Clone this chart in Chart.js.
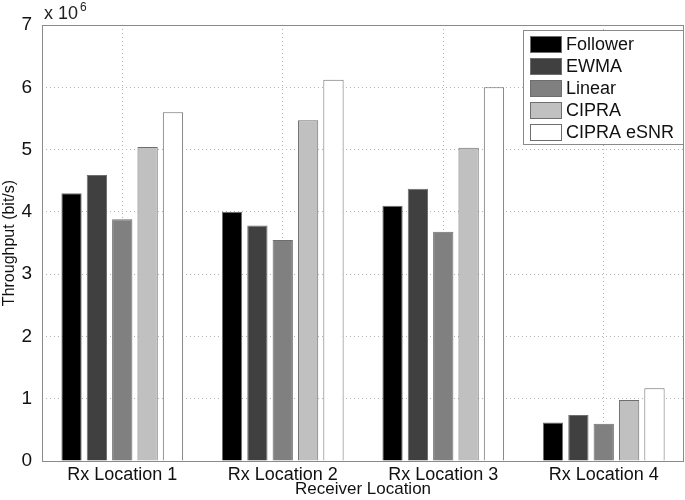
<!DOCTYPE html>
<html>
<head>
<meta charset="utf-8">
<script src="https://cdn.jsdelivr.net/npm/chart.js@4/dist/chart.umd.min.js"></script>
<style>
  html, body { margin: 0; padding: 0; background: #fff; }
  #wrap { width: 685px; height: 500px; }
</style>
</head>
<body>
<div id="wrap"><canvas id="Chart_Throughput"></canvas></div>
<script>
const locations = ["Rx Location 1", "Rx Location 2", "Rx Location 3", "Rx Location 4"];
const follower = [4.30, 4.00, 4.10, 0.62];
const ewma = [4.59, 3.78, 4.37, 0.74];
const linear = [3.88, 3.55, 3.68, 0.60];
const cipra = [5.04, 5.47, 5.03, 0.98];
const cipraEsnr = [5.60, 6.12, 6.00, 1.17];
const yTicks = [0, 1, 2, 3, 4, 5, 6, 7];

const FONT = "'Liberation Sans', Arial, sans-serif";
const edge = "#6e6e6e";

// MATLAB style box, exponent label and legend inside the axes
const matlabBits = {
  id: "matlabBits",
  afterDraw(chart) {
    const ctx = chart.ctx;
    const a = chart.chartArea;
    ctx.save();
    ctx.strokeStyle = "#8a8a8a";
    ctx.lineWidth = 1;
    ctx.strokeRect(a.left + 0.5, a.top + 0.5, a.right - a.left - 1, a.bottom - a.top);

    ctx.fillStyle = "#222";
    ctx.font = "18px " + FONT;
    ctx.textBaseline = "alphabetic";
    ctx.fillText("x 10", a.left + 2, a.top - 6);
    ctx.font = "12px " + FONT;
    ctx.fillText("6", a.left + 38, a.top - 14);

    // legend
    const lx = 523, ly = 30, lw = 160, lh = 114;
    ctx.fillStyle = "#fff";
    ctx.fillRect(lx, ly, lw, lh);
    ctx.strokeStyle = "#8a8a8a";
    ctx.strokeRect(lx + 0.5, ly + 0.5, lw, lh);
    ctx.font = "18px " + FONT;
    ctx.textBaseline = "middle";
    chart.data.datasets.forEach((ds, i) => {
      const cy = ly + 14 + i * 22;
      ctx.fillStyle = ds.backgroundColor;
      ctx.fillRect(530, cy - 8, 31, 16);
      ctx.strokeStyle = edge;
      ctx.strokeRect(530.5, cy - 7.5, 31, 16);
      ctx.fillStyle = "#111";
      ctx.fillText(ds.label, 566, cy + 1);
    });
    ctx.restore();
  }
};

new Chart(document.getElementById("Chart_Throughput"), {
  type: "bar",
  data: {
    labels: locations,
    datasets: [
      { label: "Follower", data: follower, backgroundColor: "#000000" },
      { label: "EWMA", data: ewma, backgroundColor: "#404040" },
      { label: "Linear", data: linear, backgroundColor: "#808080" },
      { label: "CIPRA", data: cipra, backgroundColor: "#c0c0c0" },
      { label: "CIPRA eSNR", data: cipraEsnr, backgroundColor: "#ffffff" },
    ].map(d => Object.assign(d, { borderColor: edge, borderWidth: 1, categoryPercentage: 0.79, barPercentage: 0.8 })),
  },
  options: {
    responsive: true,
    maintainAspectRatio: false,
    animation: false,
    layout: { padding: { top: 25, right: 1, left: 0, bottom: 0 } },
    plugins: {
      legend: { display: false },
      tooltip: { enabled: false },
    },
    scales: {
      x: {
        grid: { offset: false, color: "#b4b4b4", drawTicks: false },
        border: { display: false, dash: [1, 3] },
        ticks: { color: "#111", font: { family: FONT, size: 18 }, padding: 3 },
        title: { display: true, text: "Receiver Location", color: "#111", font: { family: FONT, size: 17 }, padding: { top: 0, bottom: 0 } },
        afterFit(scale) { scale.height = 39; },
      },
      y: {
        min: 0,
        max: 7,
        afterBuildTicks(scale) { scale.ticks = yTicks.map(v => ({ value: v })); },
        grid: { color: "#b4b4b4", drawTicks: false },
        border: { display: false, dash: [1, 3] },
        ticks: { color: "#111", font: { family: FONT, size: 19 }, padding: 10 },
        title: { display: true, text: "Throughput (bit/s)", color: "#111", font: { family: FONT, size: 16 }, padding: { top: 0, bottom: 2 } },
        afterFit(scale) { scale.width = 42; },
      },
    },
  },
  plugins: [matlabBits],
});
</script>
</body>
</html>
